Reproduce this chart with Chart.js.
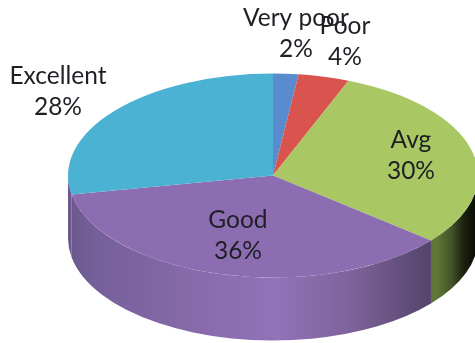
<!DOCTYPE html>
<html><head><meta charset="utf-8">
<style>html,body{margin:0;padding:0;background:#fff;overflow:hidden}canvas{display:block}</style>
<script src="https://cdn.jsdelivr.net/npm/chart.js@4"></script>
</head><body><canvas id="c" width="475" height="343"></canvas>
<script>
const categories = ["Very poor","Poor","Avg","Good","Excellent"];
const percentages = [2,4,30,36,28];

const topColors = ["#5a8bcf","#d9534f","#a9c763","#8d6db2","#4cb2d3"];
const labelAnchors = [[0.112,-1.392],[0.351,-1.314],[0.673,-0.196],[-0.171,0.588],[-1.049,-0.823]];
const stretchX = 205/102, wallDepth = 63;
const purpleStops = [[0,"#594874"],[0.07,"#5f4d7c"],[0.2,"#75609a"],[0.45,"#8b6cae"],[0.58,"#9272b8"],[0.75,"#7c6198"],[0.88,"#5a4972"],[0.93,"#4f4066"]];
const greenStops = [[0.92,"#5f7636"],[0.95,"#44552a"],[0.975,"#1c230f"],[1,"#0b0d06"]];
const wallStops = [null,null,greenStops,purpleStops,purpleStops];

const pie3d = {
  id:"pie3d",
  beforeDatasetsDraw(chart){
    const ctx = chart.ctx, arcs = chart.getDatasetMeta(0).data;
    arcs.forEach((arc,i)=>{
      const stops = wallStops[i]; if(!stops) return;
      const a = Math.max(arc.startAngle,0), b = Math.min(arc.endAngle,Math.PI);
      if(b<=a) return;
      const rx = arc.outerRadius*stretchX, ry = arc.outerRadius;
      const g = ctx.createLinearGradient(0,0,chart.width,0);
      stops.forEach(s=>g.addColorStop(s[0],s[1]));
      ctx.save();
      ctx.fillStyle = g;
      ctx.beginPath();
      ctx.ellipse(arc.x,arc.y,rx,ry,0,a,b,false);
      ctx.ellipse(arc.x,arc.y+wallDepth,rx,ry,0,b,a,true);
      ctx.closePath();
      ctx.fill();
      ctx.restore();
    });
  },
  beforeDatasetDraw(chart){
    const ctx = chart.ctx, arc = chart.getDatasetMeta(0).data[0];
    ctx.save();
    ctx.translate(arc.x,arc.y); ctx.scale(stretchX,1); ctx.translate(-arc.x,-arc.y);
  },
  afterDatasetDraw(chart){ chart.ctx.restore(); },
  afterDatasetsDraw(chart){
    const ctx = chart.ctx, arcs = chart.getDatasetMeta(0).data;
    const total = percentages.reduce((p,v)=>p+v,0);
    ctx.save();
    ctx.font = '24.5px Lato';
    ctx.fillStyle = "#1f1f26";
    ctx.textAlign = "center"; ctx.textBaseline = "middle";
    arcs.forEach((arc,i)=>{
      const x = arc.x + labelAnchors[i][0]*arc.outerRadius*stretchX;
      const y = arc.y + labelAnchors[i][1]*arc.outerRadius;
      ctx.fillText(categories[i],x,y-15.5);
      ctx.fillText(Math.round(percentages[i]/total*100)+"%",x,y+15.5);
    });
    ctx.restore();
  }
};

new Chart(document.getElementById("c"),{
  type:"pie",
  data:{labels:categories,datasets:[{data:percentages,backgroundColor:topColors,borderWidth:0,clip:false}]},
  options:{
    responsive:false,animation:false,
    layout:{padding:{left:71,right:0,top:73.5,bottom:65.5}},
    plugins:{legend:{display:false},tooltip:{enabled:false},title:{display:false}}
  },
  plugins:[pie3d]
});
</script></body></html>
